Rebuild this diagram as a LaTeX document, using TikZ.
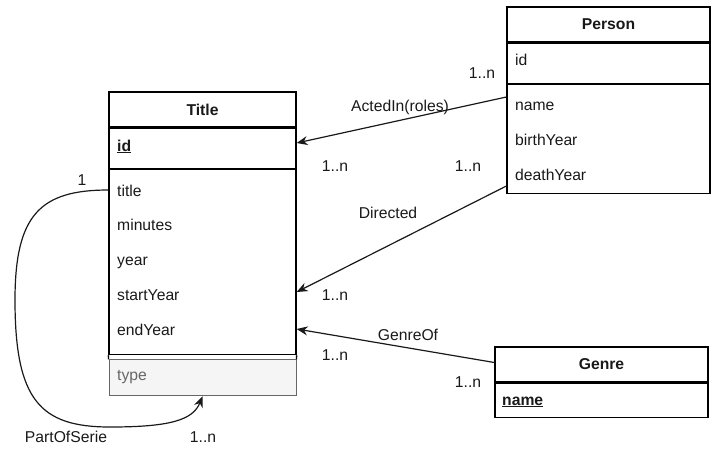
\documentclass[tikz,border=0pt]{standalone}
\usepackage{fontspec}
\setmainfont{Liberation Sans}
\usetikzlibrary{arrows.meta,positioning}
\definecolor{typefill}{HTML}{F5F5F5}
\definecolor{typeline}{HTML}{666666}
\begin{document}
\begin{tikzpicture}[
  x=1pt, y=-1pt,
  every node/.style={font=\fontsize{15.7}{18}\selectfont, inner sep=0pt, text=black!90},
  hdr/.style={draw, line width=1.3pt, font=\fontsize{15.7}{18}\selectfont\bfseries},
  sect/.style={draw, line width=1.3pt},
  extra/.style={draw=typeline, fill=typefill, line width=1pt},
  field/.style={anchor=base west},
  rel/.style={-{Stealth[length=11pt,width=9pt]}, line width=1.2pt, black!90},
  card/.style={}
]
  \useasboundingbox (0,0) rectangle (711,451);

  % Title
  \node[hdr, minimum width=187pt, minimum height=35pt] (title) at (202.5,109.5) {Title};
  \node[sect, minimum width=187pt, minimum height=40pt, below=0pt of title] (titleKey) {};
  \node[sect, minimum width=187pt, minimum height=185pt, below=0pt of titleKey] (titleAttr) {};
  \node[extra, minimum width=187pt, minimum height=36pt, below=4pt of titleAttr] (titleType) {};
  \draw[line width=1.3pt] (titleAttr.south west) -- (titleType.north west)
    (titleAttr.south east) -- (titleType.north east);
  \node[field] (tId) at (117,151) {\underline{\textbf{id}}};
  \node[field] (tTitle) at (117,196) {title};
  \node[field] (tMin) at (117,230) {minutes};
  \node[field] (tYear) at (117,265) {year};
  \node[field] (tStart) at (117,300) {startYear};
  \node[field] (tEnd) at (117,335) {endYear};
  \node[field, text=typeline] (tType) at (117,380) {type};

  % Person
  \node[hdr, minimum width=203pt, minimum height=35pt] (person) at (608.5,24.5) {Person};
  \node[sect, minimum width=203pt, minimum height=40pt, below=0pt of person] (personKey) {};
  \node[sect, minimum width=203pt, minimum height=109pt, below=0pt of personKey] (personAttr) {};
  \node[field] (pId) at (515,65) {id};
  \node[field] (pName) at (515,110) {name};
  \node[field] (pBirth) at (515,145) {birthYear};
  \node[field] (pDeath) at (515,180) {deathYear};

  % Genre
  \node[hdr, minimum width=213pt, minimum height=35pt] (genre) at (601.5,364.5) {Genre};
  \node[sect, minimum width=213pt, minimum height=34pt, below=0pt of genre] (genreKey) {};
  \node[field] (gName) at (502,405) {\underline{\textbf{name}}};

  % relations
  \draw[rel] ([yshift=13pt]pName.base west -| personAttr.west) -- ([yshift=8pt]tId.base east -| title.east);
  \draw[rel] ([yshift=-6pt]pDeath.base west -| personAttr.west) -- ([yshift=8pt]tStart.base east -| title.east);
  \draw[rel] ([yshift=2pt]genre.west) -- ([yshift=6pt]tEnd.base east -| title.east);
  \draw[rel] ([yshift=6pt]tTitle.base west -| title.west) .. controls (40,190) and (15,215) .. (15,300)
    .. controls (15,400) and (40,427) .. (110,427)
    .. controls (170,427) and (193,420) .. (titleType.south);

  \node (actedIn) at (400,107) {ActedIn(roles)};
  \node (directed) at (388,213) {Directed};
  \node (genreOf) at (408,335) {GenreOf};
  \node (partOf) at (66,437) {PartOfSerie};

  \node[card] (c1) at (482,73) {1..n};
  \node[card] (c2) at (335,166) {1..n};
  \node[card] (c3) at (468,166) {1..n};
  \node[card] (c4) at (335,295) {1..n};
  \node[card] (c5) at (335,355) {1..n};
  \node[card] (c6) at (468,382) {1..n};
  \node[card] (c7) at (82,180) {1};
  \node[card] (c8) at (203,437) {1..n};
\end{tikzpicture}
\end{document}
